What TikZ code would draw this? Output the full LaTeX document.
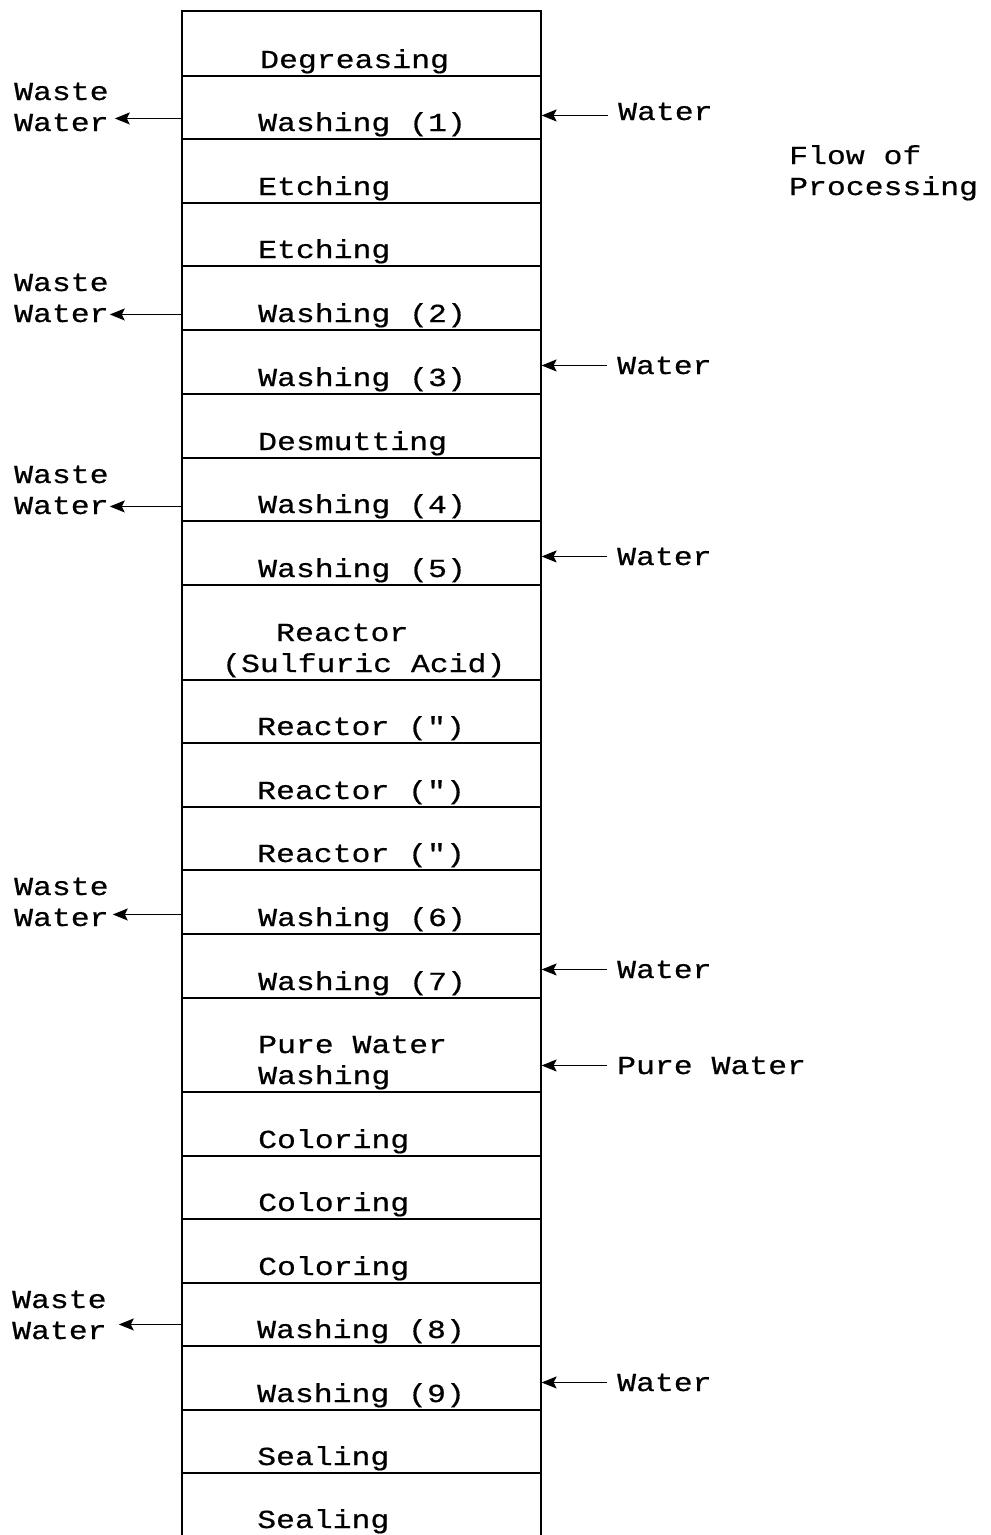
\documentclass[tikz,border=0pt]{standalone}
\usepackage{fontspec}
\setmainfont[FakeStretch=1.21,FakeBold=0.6,Ligatures=TeXOff]{Liberation Mono}
\usetikzlibrary{arrows.meta}
\newcommand{\twoline}[3][0pt]{\vbox{\baselineskip=31pt\hbox{\hskip#1 #2}\hbox{#3}}}
\begin{document}
\begin{tikzpicture}[x=1pt,y=-1pt,
  every node/.style={font=\fontsize{26}{31}\selectfont},
  row/.style={draw,line width=1.6pt,rectangle,inner sep=0pt,anchor=north west,minimum width=359pt},
  txt/.style={inner sep=0pt,anchor=base west},
  arr/.style={line width=1.3pt,-{Stealth[length=15pt,width=12pt,inset=3pt]}}]
\useasboundingbox (0,0) rectangle (991,1535);
% rows
\node[row,minimum height=65pt] (r1) at (181,10) {};
\node[row,minimum height=63pt] (r2) at (181,75) {};
\node[row,minimum height=64pt] (r3) at (181,138) {};
\node[row,minimum height=63pt] (r4) at (181,202) {};
\node[row,minimum height=64pt] (r5) at (181,265) {};
\node[row,minimum height=64pt] (r6) at (181,329) {};
\node[row,minimum height=64pt] (r7) at (181,393) {};
\node[row,minimum height=63pt] (r8) at (181,457) {};
\node[row,minimum height=64pt] (r9) at (181,520) {};
\node[row,minimum height=95pt] (r10) at (181,584) {};
\node[row,minimum height=63pt] (r11) at (181,679) {};
\node[row,minimum height=64pt] (r12) at (181,742) {};
\node[row,minimum height=63pt] (r13) at (181,806) {};
\node[row,minimum height=64pt] (r14) at (181,869) {};
\node[row,minimum height=64pt] (r15) at (181,933) {};
\node[row,minimum height=94pt] (r16) at (181,997) {};
\node[row,minimum height=64pt] (r17) at (181,1091) {};
\node[row,minimum height=63pt] (r18) at (181,1155) {};
\node[row,minimum height=64pt] (r19) at (181,1218) {};
\node[row,minimum height=63pt] (r20) at (181,1282) {};
\node[row,minimum height=64pt] (r21) at (181,1345) {};
\node[row,minimum height=63pt] (r22) at (181,1409) {};
\node[row,minimum height=75pt] (r23) at (181,1472) {};
% row texts
\node[txt] (t1) at (260,68) {Degreasing};
\node[txt] (t2) at (258,131) {Washing (1)};
\node[txt] (t3) at (258,195) {Etching};
\node[txt] (t4) at (258,258) {Etching};
\node[txt] (t5) at (258,322) {Washing (2)};
\node[txt] (t6) at (258,386) {Washing (3)};
\node[txt] (t7) at (258,450) {Desmutting};
\node[txt] (t8) at (258,513) {Washing (4)};
\node[txt] (t9) at (258,577) {Washing (5)};
\node[txt] (t10) at (222,672) {\twoline[54pt]{Reactor}{(Sulfuric Acid)}};
\node[txt] (t11) at (257,735) {Reactor (")};
\node[txt] (t12) at (257,799) {Reactor (")};
\node[txt] (t13) at (257,862) {Reactor (")};
\node[txt] (t14) at (258,926) {Washing (6)};
\node[txt] (t15) at (258,990) {Washing (7)};
\node[txt] (t16) at (258,1084) {\twoline{Pure Water}{Washing}};
\node[txt] (t17) at (258,1148) {Coloring};
\node[txt] (t18) at (258,1211) {Coloring};
\node[txt] (t19) at (258,1275) {Coloring};
\node[txt] (t20) at (257,1338) {Washing (8)};
\node[txt] (t21) at (257,1402) {Washing (9)};
\node[txt] (t22) at (257,1465) {Sealing};
\node[txt] (t23) at (257,1528) {Sealing};
% flow label
\node[txt] (flow) at (789,195) {\twoline{Flow of}{Processing}};
% waste water labels
\node[txt] (w1) at (14,131) {\twoline{Waste}{Water}};
\node[txt] (w2) at (14,322) {\twoline{Waste}{Water}};
\node[txt] (w3) at (14,514) {\twoline{Waste}{Water}};
\node[txt] (w4) at (14,926) {\twoline{Waste}{Water}};
\node[txt] (w5) at (12,1339) {\twoline{Waste}{Water}};
\coordinate (p1) at ([xshift=6pt,yshift=13pt]w1.south east);
\coordinate (p2) at ([xshift=1pt,yshift=8pt]w2.south east);
\coordinate (p3) at ([xshift=1pt,yshift=8pt]w3.south east);
\coordinate (p4) at ([xshift=4pt,yshift=12pt]w4.south east);
\coordinate (p5) at ([xshift=12pt,yshift=15pt]w5.south east);
\draw[arr] (r2.west |- p1) -- (p1);
\draw[arr] (r5.west |- p2) -- (p2);
\draw[arr] (r8.west |- p3) -- (p3);
\draw[arr] (r14.west |- p4) -- (p4);
\draw[arr] (r20.west |- p5) -- (p5);
% water inputs
\node[txt] (in1) at (618,120) {Water};
\node[txt] (in2) at (617,374) {Water};
\node[txt] (in3) at (617,565) {Water};
\node[txt] (in4) at (617,978) {Water};
\node[txt] (in5) at (617,1074) {Pure Water};
\node[txt] (in6) at (617,1391) {Water};
\coordinate (q1) at ([yshift=-4pt]in1.west);
\draw[arr,shorten <=10pt] (q1) -- (r2.east |- q1);
\draw[arr,shorten <=10pt] (in2.west) -- (r6.east |- in2.west);
\draw[arr,shorten <=10pt] (in3.west) -- (r9.east |- in3.west);
\draw[arr,shorten <=10pt] (in4.west) -- (r15.east |- in4.west);
\draw[arr,shorten <=10pt] (in5.west) -- (r16.east |- in5.west);
\draw[arr,shorten <=10pt] (in6.west) -- (r21.east |- in6.west);
\end{tikzpicture}
\end{document}
